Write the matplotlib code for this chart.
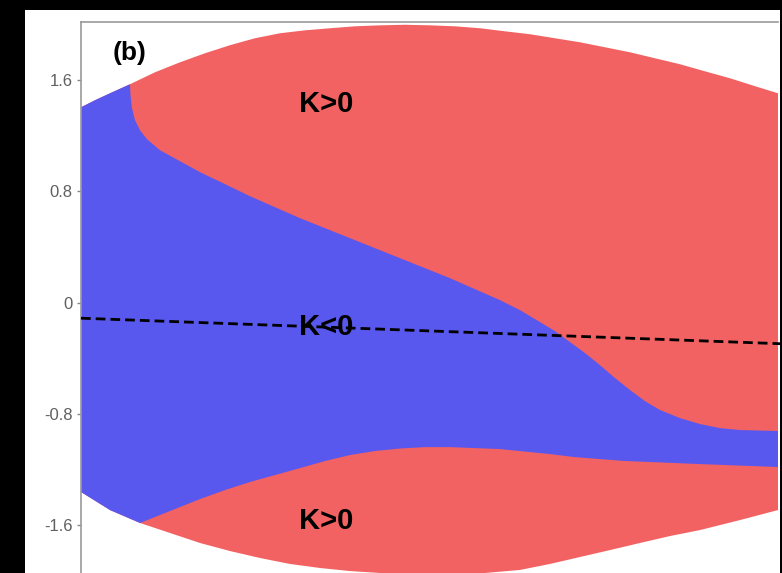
import numpy as np
import matplotlib
matplotlib.use('Agg')
import matplotlib.pyplot as plt
from matplotlib.patches import Rectangle

# outer boundary of the domain (top edge and bottom edge)
top_x = [0, 0.14, 0.29, 0.49, 0.74, 0.99, 1.24, 1.49, 1.74, 1.99, 2.24, 2.49, 2.74, 2.99,
         3.24, 3.49, 3.74, 3.99, 4.24, 4.49, 4.74, 4.99, 5.24, 5.49, 5.74, 5.99, 6.24,
         6.49, 6.74, 6.97]
top_y = [1.406, 1.457, 1.507, 1.572, 1.658, 1.730, 1.795, 1.853, 1.903, 1.939, 1.960,
         1.975, 1.989, 1.996, 2.000, 1.996, 1.989, 1.975, 1.953, 1.932, 1.903, 1.874,
         1.838, 1.802, 1.759, 1.716, 1.665, 1.615, 1.558, 1.507]
bot_x = [0, 0.29, 0.59, 0.89, 1.19, 1.49, 1.79, 2.09, 2.39, 2.69, 2.99, 3.34, 3.69, 4.04,
         4.39, 4.69, 4.99, 5.29, 5.59, 5.89, 6.19, 6.59, 6.97]
bot_y = [-1.363, -1.493, -1.586, -1.658, -1.730, -1.788, -1.838, -1.881, -1.910, -1.932,
         -1.946, -1.957, -1.960, -1.946, -1.924, -1.881, -1.831, -1.781, -1.730, -1.680,
         -1.637, -1.565, -1.493]

# K<0 region borders
up_x = [0.49, 0.495, 0.51, 0.54, 0.59, 0.66, 0.79, 0.99, 1.19, 1.44, 1.69, 1.94, 2.19,
        2.44, 2.69, 2.94, 3.19, 3.44, 3.69, 3.94, 4.19, 4.39, 4.59, 4.74, 4.89, 5.04,
        5.19, 5.34, 5.49, 5.64, 5.79, 5.99, 6.19, 6.39, 6.59, 6.97]
up_y = [1.572, 1.493, 1.399, 1.313, 1.241, 1.176, 1.097, 1.018, 0.939, 0.853, 0.766,
        0.687, 0.608, 0.536, 0.464, 0.392, 0.320, 0.248, 0.176, 0.097, 0.018, -0.054,
        -0.140, -0.205, -0.284, -0.363, -0.450, -0.543, -0.629, -0.709, -0.773, -0.831,
        -0.874, -0.903, -0.917, -0.924]
lo_x = [0.59, 0.74, 0.89, 1.04, 1.19, 1.44, 1.69, 1.94, 2.19, 2.44, 2.69, 2.94, 3.19,
        3.44, 3.69, 3.94, 4.19, 4.44, 4.69, 4.94, 5.19, 5.44, 5.69, 6.19, 6.59, 6.97]
lo_y = [-1.586, -1.543, -1.500, -1.457, -1.414, -1.349, -1.291, -1.241, -1.191, -1.140,
        -1.097, -1.068, -1.050, -1.040, -1.040, -1.047, -1.054, -1.072, -1.090, -1.112,
        -1.126, -1.140, -1.147, -1.162, -1.173, -1.183]

# dashed line
dash_x = [0, 7.5]
dash_y = [-0.112, -0.309]

yticks = [1.6, 0.8, 0, -0.8, -1.6]
ylabels = ['1.6', '0.8', '0', '-0.8', '-1.6']

red = '#f26262'
blue = '#5858ee'

fig = plt.figure(figsize=(7.82, 5.73), dpi=100)
fig.patch.set_facecolor('black')
fig.add_artist(Rectangle((25/782., 0), 755/782., 563/573., transform=fig.transFigure,
                         facecolor='white', edgecolor='none', zorder=0))

ax = fig.add_axes([81/782., (573-580.5)/573., (830-81)/782., (580.5-22)/573.])
ax.patch.set_alpha(0)

# whole domain red
px = np.concatenate([top_x, bot_x[::-1]])
py = np.concatenate([top_y, bot_y[::-1]])
ax.fill(px, py, color=red, lw=0, zorder=1)

# blue region
tx = np.array(top_x); ty = np.array(top_y)
bx = np.array(bot_x); by = np.array(bot_y)
mt = tx < up_x[0]
mb = bx < lo_x[0]
qx = np.concatenate([tx[mt], up_x, lo_x[::-1], bx[mb][::-1]])
qy = np.concatenate([ty[mt], up_y, lo_y[::-1], by[mb][::-1]])
ax.fill(qx, qy, color=blue, lw=0, zorder=2)

ax.plot(dash_x, dash_y, color='black', lw=2, dashes=(3.5, 1.8), zorder=3)

font = 'Liberation Sans'
ax.text(2.45, 1.428, 'K>0', ha='center', va='center', fontsize=21, fontweight='bold',
        family=font, zorder=5)
ax.text(2.45, -0.176, 'K<0', ha='center', va='center', fontsize=21, fontweight='bold',
        family=font, zorder=5)
ax.text(2.45, -1.572, 'K>0', ha='center', va='center', fontsize=21, fontweight='bold',
        family=font, zorder=5)
ax.text(0.49, 1.795, '(b)', ha='center', va='center', fontsize=19, fontweight='bold',
        family=font, zorder=5)

ax.set_xlim(0, 7.49)
ax.set_ylim(-2.0, 2.02)
ax.set_xticks([])
ax.set_yticks(yticks)
ax.set_yticklabels(ylabels, family=font, fontsize=12, color='#606060')
ax.tick_params(axis='y', length=3, width=1, color='#888888', pad=3)
for s in ['right', 'bottom']:
    ax.spines[s].set_visible(False)
for s in ['left', 'top']:
    ax.spines[s].set_color('#999999')
    ax.spines[s].set_linewidth(1.2)
ax.spines['top'].set_bounds(0, 6.97)

fig.savefig('out.png', dpi=100, facecolor=fig.get_facecolor())
